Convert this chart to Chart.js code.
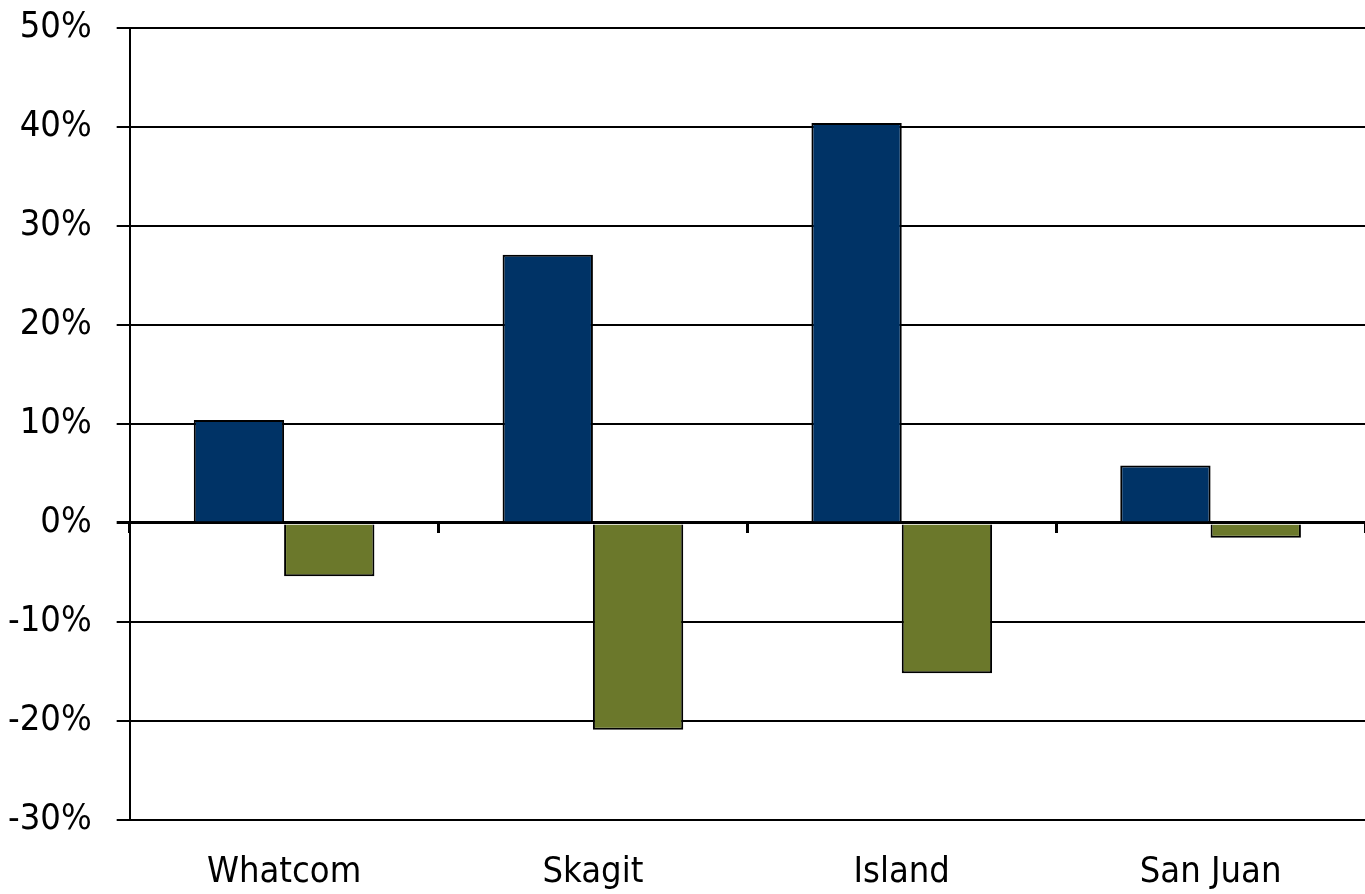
<!DOCTYPE html>
<html lang="en">
<head>
  <meta charset="utf-8">
  <title>County change</title>
  <script src="https://cdn.jsdelivr.net/npm/chart.js@4.4.1/dist/chart.umd.min.js"></script>
  <style>
    body { margin: 0; background: #fff; }
    canvas { display: block; }
  </style>
</head>
<body>
<canvas id="chart" width="1365" height="894"></canvas>
<script>
var counties = ["Whatcom", "Skagit", "Island", "San Juan"];
var seriesA = [10.4, 27.1, 40.4, 5.8];
var seriesB = [-5.4, -20.9, -15.2, -1.5];
var yTicks = [50, 40, 30, 20, 10, 0, -10, -20, -30];

var fontFamily = "'DejaVu Sans Condensed', 'Liberation Sans Narrow', 'Liberation Sans', sans-serif";

var ctx = document.getElementById("chart").getContext("2d");
new Chart(ctx, {
  type: "bar",
  data: {
    labels: counties,
    datasets: [{
      label: "A",
      data: seriesA,
      backgroundColor: "#003366",
      borderColor: "#000",
      borderWidth: 2
    }, {
      label: "B",
      data: seriesB,
      backgroundColor: "#6b782b",
      borderColor: "#000",
      borderWidth: 2
    }]
  },
  options: {
    responsive: false,
    animation: false,
    layout: { padding: { top: 28, right: 0, left: -17, bottom: -23 } },
    plugins: { legend: { display: false }, tooltip: { enabled: false } },
    datasets: { bar: { categoryPercentage: 0.585, barPercentage: 1 } },
    scales: {
      x: {
        position: "bottom",
        grid: { display: false },
        border: { display: false },
        ticks: { color: "#000", padding: 23, font: { family: fontFamily, size: 36 } }
      },
      // short marks between counties on the zero line
      x2: {
        type: "category",
        labels: counties,
        position: { y: 0 },
        offset: true,
        grid: { offset: true, drawOnChartArea: false, tickLength: 10, tickWidth: 3, color: "#000" },
        border: { display: false },
        ticks: { display: false },
        afterFit: function (s) { s.height = 0; }
      },
      y: {
        min: -30,
        max: 50,
        afterBuildTicks: function (scale) {
          scale.ticks = yTicks.map(function (v) { return { value: v }; });
        },
        afterFit: function (s) { s.paddingTop = 0; s.paddingBottom = 0; },
        grid: {
          color: "#000",
          lineWidth: function (c) { return c.tick && c.tick.value === 0 ? 3 : 2; },
          tickLength: 13
        },
        border: { display: true, color: "#000", width: 2 },
        ticks: {
          color: "#000",
          padding: 25,
          font: { family: fontFamily, size: 36 },
          callback: function (v) { return v + "%"; }
        }
      }
    }
  }
});
</script>
</body>
</html>
